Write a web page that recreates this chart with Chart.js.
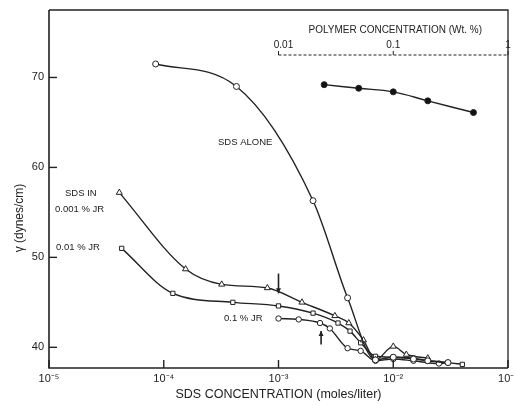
<!DOCTYPE html>
<html><head><meta charset="utf-8">
<script src="https://cdn.jsdelivr.net/npm/chart.js@4/dist/chart.umd.min.js"></script>
<style>html,body{margin:0;padding:0;background:#fff}#wrap{width:514px;height:405px}</style>
</head><body><div id="wrap"><canvas id="c" width="514" height="405"></canvas></div>
<script>
// ---- data ----
const xTickExponents = [-5, -4, -3, -2, -1];
const yTicks = [40, 50, 60, 70];
const polymerTicks = [0.01, 0.1, 1];
const polymerTickLabels = ['0.01', '0.1', '1'];

const sdsAloneX = [8.5e-5, 4.3e-4, 2.0e-3, 4.0e-3, 7.0e-3, 1.0e-2, 1.5e-2, 2.0e-2, 3.0e-2];
const sdsAloneY = [71.5, 69.0, 56.3, 45.5, 38.6, 38.9, 38.7, 38.5, 38.3];

const jr001X = [4.1e-5, 1.55e-4, 3.2e-4, 8.0e-4, 1.6e-3, 3.1e-3, 4.1e-3, 5.5e-3, 7.0e-3, 1.0e-2, 1.3e-2, 2.0e-2];
const jr001Y = [57.2, 48.7, 47.0, 46.6, 45.0, 43.5, 42.7, 40.8, 38.6, 40.1, 39.2, 38.8];

const jr01X = [4.3e-5, 1.2e-4, 4.0e-4, 1.0e-3, 2.0e-3, 3.3e-3, 4.2e-3, 5.2e-3, 7.0e-3, 1.0e-2, 1.5e-2, 2.0e-2, 3.0e-2, 4.0e-2];
const jr01Y = [51.0, 46.0, 45.0, 44.6, 43.8, 42.7, 41.8, 40.5, 39.0, 38.9, 38.8, 38.5, 38.3, 38.1];

const jr1X = [1.0e-3, 1.5e-3, 2.3e-3, 2.8e-3, 4.0e-3, 5.2e-3, 7.0e-3, 1.0e-2, 1.5e-2, 2.5e-2, 3.0e-2];
const jr1Y = [43.2, 43.1, 42.7, 42.1, 39.9, 39.6, 38.5, 38.7, 38.5, 38.2, 38.3];

const polymerX = [0.025, 0.05, 0.1, 0.2, 0.5];
const polymerY = [69.2, 68.8, 68.4, 67.4, 66.1];

// arrows marking the break points: [x, yFrom, yTo]
const arrowMarks = [[1.0e-3, 48.2, 46.0], [2.35e-3, 40.3, 41.8]];

const zip = (xs, ys) => xs.map((x, i) => ({x: x, y: ys[i]}));
const sup = {'-': '\u207B', '0': '\u2070', '1': '\u00B9', '2': '\u00B2', '3': '\u00B3', '4': '\u2074', '5': '\u2075', '6': '\u2076', '7': '\u2077', '8': '\u2078', '9': '\u2079'};
const toSup = s => String(s).split('').map(c => sup[c] || c).join('');

const INK = '#222';
const FONT = '"Liberation Sans", Arial, sans-serif';

function ds(label, data, style, radius, extra) {
  return Object.assign({
    label: label, data: data, xAxisID: 'x', yAxisID: 'y',
    borderColor: INK, borderWidth: 1.4, pointStyle: style, pointRadius: radius,
    pointBackgroundColor: '#fff', pointBorderColor: INK, pointBorderWidth: 1,
    cubicInterpolationMode: 'monotone', fill: false
  }, extra || {});
}

const decor = {
  id: 'decor',
  afterDraw(chart) {
    const ctx = chart.ctx, a = chart.chartArea;
    const xs = chart.scales.x, ys = chart.scales.y, xt = chart.scales.xTop;
    ctx.save();
    ctx.strokeStyle = INK;
    // frame
    ctx.lineWidth = 1.6;
    ctx.beginPath();
    ctx.moveTo(a.left, a.top); ctx.lineTo(a.left, a.bottom); ctx.lineTo(a.right, a.bottom);
    ctx.stroke();
    ctx.lineWidth = 1.3;
    ctx.beginPath();
    ctx.moveTo(a.left, a.top); ctx.lineTo(a.right, a.top); ctx.lineTo(a.right, a.bottom);
    ctx.stroke();
    // inward ticks
    ctx.lineWidth = 1.4;
    yTicks.forEach(v => {
      const py = ys.getPixelForValue(v);
      ctx.beginPath(); ctx.moveTo(a.left, py); ctx.lineTo(a.left + 8, py); ctx.stroke();
    });
    xTickExponents.forEach(e => {
      const px = xs.getPixelForValue(Math.pow(10, e));
      ctx.beginPath(); ctx.moveTo(px, a.bottom); ctx.lineTo(px, a.bottom - 8); ctx.stroke();
    });
    // polymer axis (top, inside)
    const py0 = a.top + 45;
    const pl = xt.getPixelForValue(polymerTicks[0]);
    const pr = xt.getPixelForValue(polymerTicks[polymerTicks.length - 1]);
    ctx.lineWidth = 1;
    ctx.setLineDash([3, 2]);
    ctx.beginPath(); ctx.moveTo(pl, py0); ctx.lineTo(pr, py0); ctx.stroke();
    ctx.setLineDash([]);
    ctx.fillStyle = INK;
    ctx.font = '10px ' + FONT;
    ctx.textAlign = 'center'; ctx.textBaseline = 'middle';
    polymerTicks.forEach((v, i) => {
      const px = xt.getPixelForValue(v);
      ctx.beginPath(); ctx.moveTo(px, py0); ctx.lineTo(px, py0 - 4); ctx.stroke();
      ctx.fillText(polymerTickLabels[i], i === 0 ? px + 5 : px, py0 - 10);
    });
    ctx.font = '10px ' + FONT;
    ctx.fillText('POLYMER CONCENTRATION (Wt. %)', (pl + pr) / 2 + 2, py0 - 25);
    // annotations
    ctx.font = '9.5px ' + FONT;
    ctx.textAlign = 'left';
    ctx.fillText('SDS ALONE', 218, 142);
    ctx.fillText('SDS IN', 65, 193);
    ctx.fillText('0.001 % JR', 55, 209);
    ctx.fillText('0.01 % JR', 56, 247);
    ctx.fillText('0.1 % JR', 224, 318);
    // arrows
    ctx.lineWidth = 1.6;
    arrowMarks.forEach(([xv, y0, y1]) => {
      const px = xs.getPixelForValue(xv), p0 = ys.getPixelForValue(y0), p1 = ys.getPixelForValue(y1);
      const dir = Math.sign(p1 - p0);
      ctx.beginPath(); ctx.moveTo(px, p0); ctx.lineTo(px, p1); ctx.stroke();
      ctx.beginPath();
      ctx.moveTo(px, p1); ctx.lineTo(px - 2.5, p1 - dir * 5); ctx.lineTo(px + 2.5, p1 - dir * 5);
      ctx.closePath(); ctx.fill();
    });
    // y title
    ctx.save();
    ctx.translate(20, 218);
    ctx.rotate(-Math.PI / 2);
    ctx.font = '12px ' + FONT;
    ctx.textAlign = 'center';
    ctx.fillText('\u03B3 (dynes/cm)', 0, 0);
    ctx.restore();
    ctx.restore();
  }
};

new Chart(document.getElementById('c'), {
  type: 'line',
  data: {
    datasets: [
      ds('SDS alone', zip(sdsAloneX, sdsAloneY), 'circle', 3),
      ds('SDS in 0.001 % JR', zip(jr001X, jr001Y), 'triangle', 3.5),
      ds('0.01 % JR', zip(jr01X, jr01Y), 'rect', 3),
      ds('0.1 % JR', zip(jr1X, jr1Y), 'circle', 2.7),
      ds('Polymer', zip(polymerX, polymerY), 'circle', 3,
         {xAxisID: 'xTop', pointBackgroundColor: '#111', cubicInterpolationMode: 'default', tension: 0.4})
    ]
  },
  options: {
    responsive: false, animation: false, devicePixelRatio: 1,
    layout: {padding: {top: 10, right: 6, left: 0, bottom: 0}},
    plugins: {legend: {display: false}, tooltip: {enabled: false}},
    scales: {
      x: {
        type: 'logarithmic', position: 'bottom', min: 1e-5, max: 1e-1,
        grid: {display: false, drawTicks: false}, border: {display: false},
        afterBuildTicks: s => { s.ticks = xTickExponents.map(e => ({value: Math.pow(10, e)})); },
        afterFit: s => { s.height = 37; s.paddingLeft = 0; s.paddingRight = 0; },
        ticks: {color: INK, font: {family: FONT, size: 11}, padding: 4, maxRotation: 0, autoSkip: false,
                callback: v => '10' + toSup(Math.round(Math.log10(v)))},
        title: {display: true, text: 'SDS CONCENTRATION (moles/liter)', color: INK,
                font: {family: FONT, size: 12.5}, padding: {top: 0, bottom: 3}}
      },
      xTop: {
        type: 'logarithmic', position: 'top', min: 1e-4, max: 1, display: false
      },
      y: {
        type: 'linear', position: 'left', min: 37.7, max: 77.5,
        grid: {display: false, drawTicks: false}, border: {display: false},
        afterBuildTicks: s => { s.ticks = yTicks.map(v => ({value: v})); },
        afterFit: s => { s.width = 49; s.paddingTop = 0; s.paddingBottom = 0; },
        ticks: {color: INK, font: {family: FONT, size: 11}, padding: 5, callback: v => String(v)}
      }
    }
  },
  plugins: [decor]
});
</script>
</body></html>
